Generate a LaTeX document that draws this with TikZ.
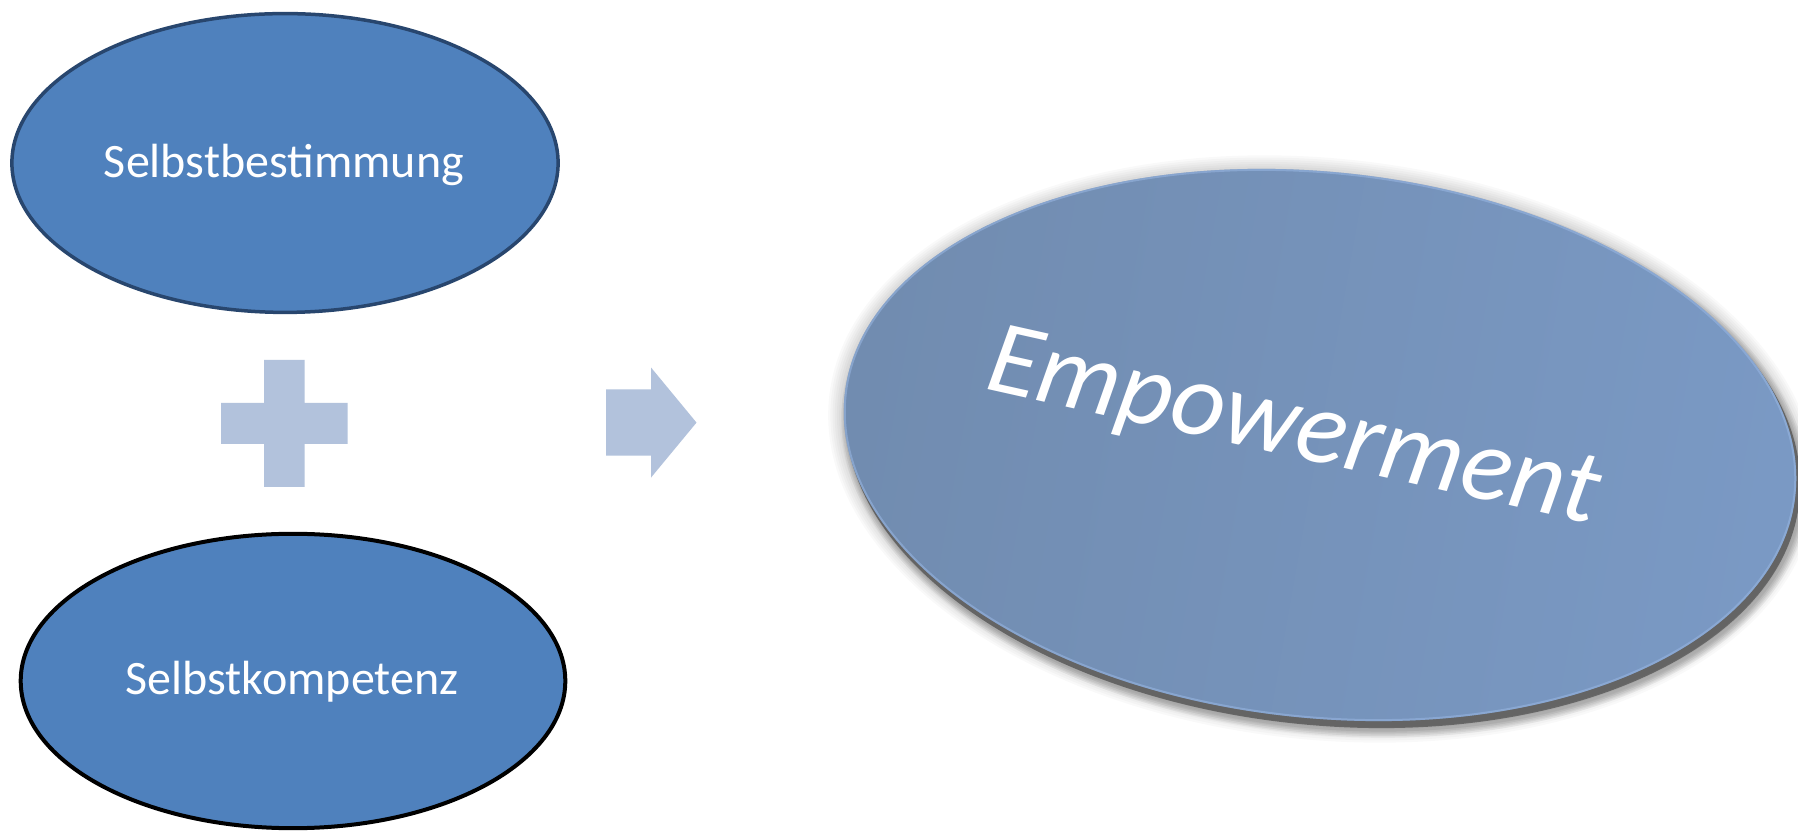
\documentclass[tikz,border=0pt]{standalone}
\usepackage{fontspec}
\setmainfont{Carlito}
\usetikzlibrary{shapes.geometric}
\definecolor{accent}{HTML}{4F81BD}
\definecolor{topline}{HTML}{28466E}
\definecolor{lightsym}{HTML}{B2C2DC}
\definecolor{bigleft}{HTML}{718CB0}
\definecolor{bigright}{HTML}{7A99C4}
\definecolor{bigrim}{HTML}{96B4E0}
\tikzset{
  smallell/.style={ellipse, fill=accent, inner sep=0pt},
  labeltext/.style={text=white, inner sep=0pt, font=\fontsize{48}{56}\selectfont},
  symbolshape/.style={fill=lightsym},
  bigtext/.style={inner sep=0pt, font=\fontsize{105}{120}\selectfont\itshape},
}
\begin{document}
\begin{tikzpicture}[x=1pt,y=1pt]
\useasboundingbox (0,0) rectangle (1798,832);
\fill[white] (0,0) rectangle (1798,832);

% left ellipses
\node[smallell, draw=topline, line width=3.5pt, minimum width=546.2pt, minimum height=298.8pt] (sb) at (285,669) {};
\node[labeltext, anchor=base] (sbt) at (284,654) {Selbstbestimmung};

\node[smallell, draw=black, line width=4pt, minimum width=544.6pt, minimum height=294.4pt] (sk) at (293,151) {};
\node[labeltext, anchor=base] (skt) at (292,137) {Selbstkompetenz};

% plus sign
\fill[symbolshape] (264,472) -- (304.5,472) -- (304.5,429) -- (347.6,429) -- (347.6,388)
  -- (304.5,388) -- (304.5,345) -- (264,345) -- (264,388) -- (221,388) -- (221,429) -- (264,429) -- cycle;

% arrow
\fill[symbolshape] (606,442.6) -- (651,442.6) -- (651,464.5) -- (696.5,409.4) -- (651,354.4)
  -- (651,376.3) -- (606,376.3) -- cycle;

% big ellipse shadow
\foreach \i in {1,...,8} {
  \fill[black, opacity=0.022, rotate around={-6:(1322,383)}]
    (1322,383) ellipse ({478+\i*2.2} and {273+\i*2.2});
}
\fill[black!80, opacity=0.5, rotate around={-6:(1323,381)}]
  (1323,381) ellipse (479 and 274);
\foreach \i in {1,...,5} {
  \fill[black, opacity=0.045, rotate around={-6:(1325,378)}]
    (1325,378) ellipse ({478+\i*1.5} and {273+\i*1.5});
}

% big ellipse
\node[ellipse, inner sep=0pt, minimum width=956pt, minimum height=546pt, rotate=-6,
  left color=bigleft, right color=bigright, shading angle=80] (emp) at (1320,387) {};
\draw[bigrim, line width=2pt, opacity=0.6, rotate around={-6:(1320,387)}]
  (1320,387) ellipse (477 and 272);

% text
\node[bigtext, text=white, anchor=base west, rotate=-12.6] (empt) at (983,444) {Empowerment};
\end{tikzpicture}
\end{document}
